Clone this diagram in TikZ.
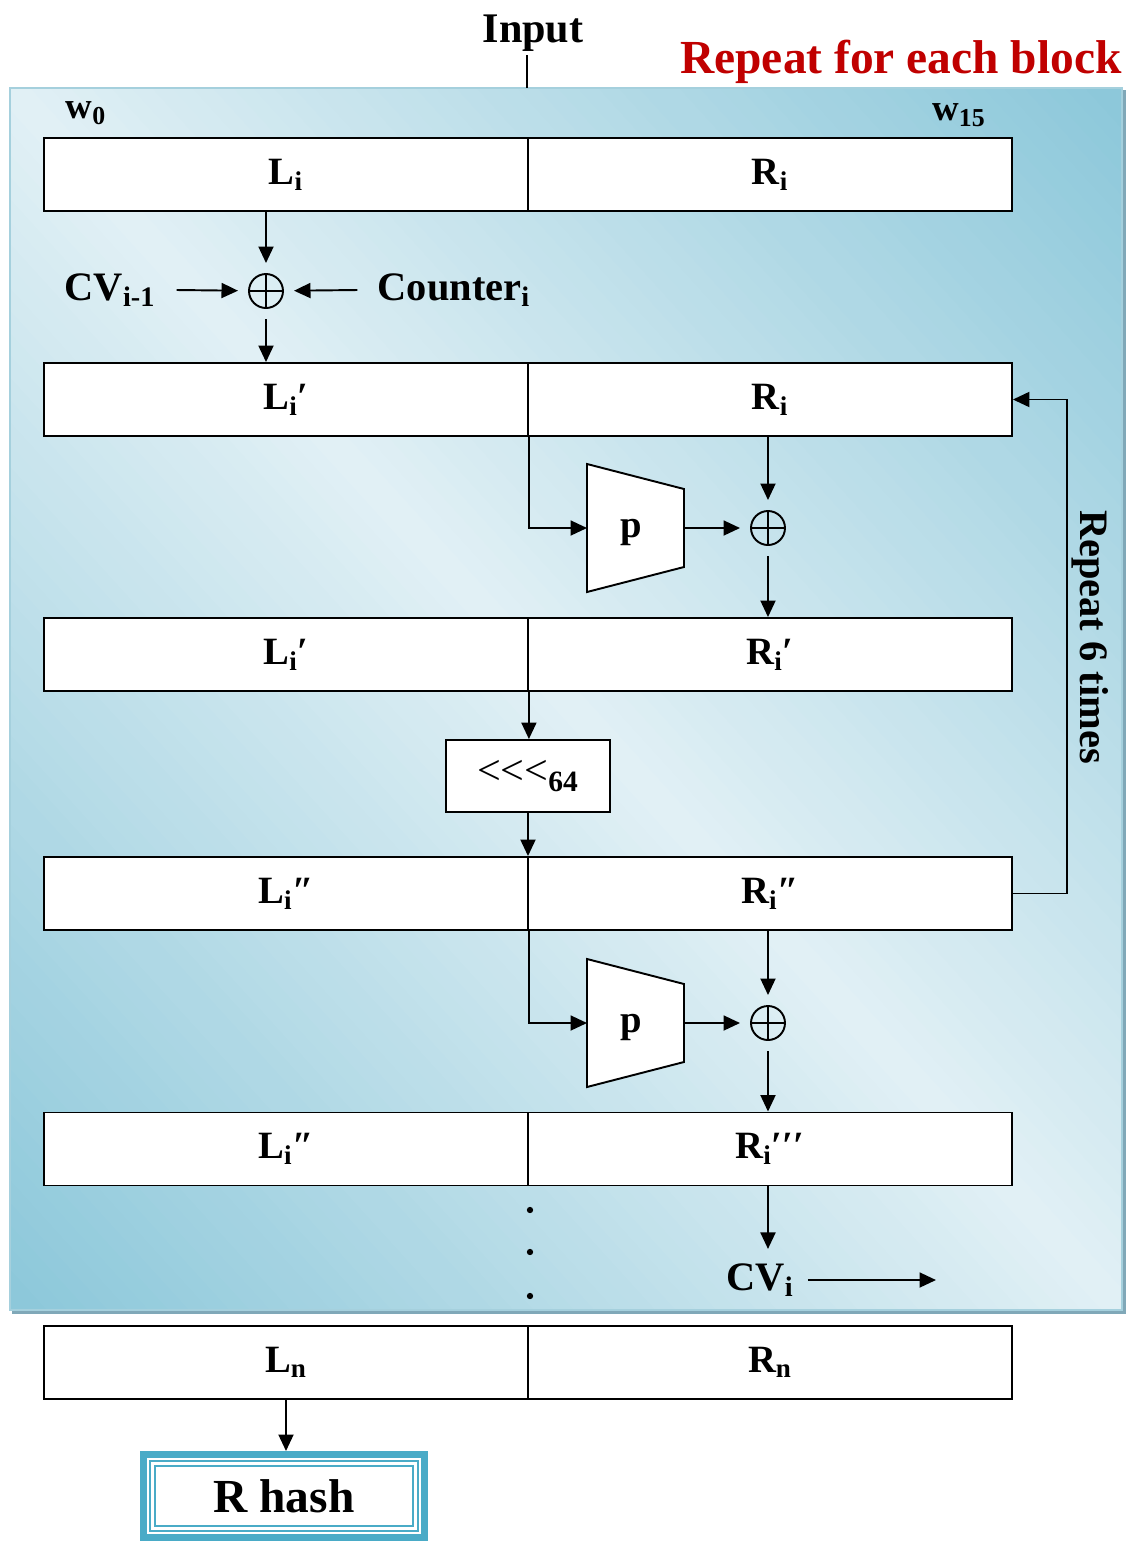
\documentclass[tikz,border=0pt]{standalone}
\usepackage{fontspec}
\setmainfont{Liberation Serif}
\usepackage{tikz}
\usetikzlibrary{arrows.meta}
\definecolor{blockred}{RGB}{192,0,0}
\definecolor{panedark}{RGB}{141,200,218}
\definecolor{panelite}{RGB}{225,240,245}
\definecolor{paneedge}{RGB}{165,208,221}
\definecolor{paneshadow}{RGB}{128,168,184}
\definecolor{hashblue}{RGB}{74,171,199}
\newcommand{\idx}[1]{\textsubscript{#1}}
\tikzset{
  arr/.style   = {-{Triangle[length=3.3mm,width=3mm]},line width=1.1pt},
  plain/.style = {line width=1.1pt},
  lbl/.style   = {font=\fontsize{22}{26}\selectfont\bfseries,inner sep=0pt},
  half/.style  = {draw,fill=white,line width=1.1pt,minimum width=9.68cm,
                  minimum height=1.46cm,inner sep=0pt,
                  font=\fontsize{22}{26}\selectfont\bfseries},
  xorop/.style = {circle,draw,line width=1.1pt,minimum size=0.68cm,
                  inner sep=0pt,outer sep=0.22cm,
                  path picture={\draw[line width=1.1pt]
                    (path picture bounding box.north) -- (path picture bounding box.south)
                    (path picture bounding box.west) -- (path picture bounding box.east);}}
}
% permutation block: name, x, y of centre
\newcommand{\permbox}[3]{%
  \draw[plain,fill=white] (#2-48,#3-64) -- (#2+49,#3-39) -- (#2+49,#3+39)
    -- (#2-48,#3+64) -- cycle;
  \node[lbl] (#1) at (#2-4,#3+4) {p};
  \coordinate (#1in) at (#2-48,#3);
  \coordinate (#1out) at (#2+49,#3);
}

\begin{document}
\begin{tikzpicture}[x=0.02cm,y=-0.02cm]
  \useasboundingbox (0,0) rectangle (1128,1543);
  % panel, light along the diagonal, darker towards two corners
  \begin{scope}
    \clip (10,88) rectangle (1122,1310);
    \foreach \k in {-56,...,55}{
      \pgfmathsetmacro{\sfrom}{\k*15}
      \pgfmathsetmacro{\sto}{\k*15+16}
      \pgfmathtruncatemacro{\mixf}{min(100,abs(\k*15+7.5)/800*100)}
      \fill[panedark!\mixf!panelite]
        ({566+\sfrom*0.740-1000*0.673},{699-\sfrom*0.673-1000*0.740})
        -- ({566+\sfrom*0.740+1000*0.673},{699-\sfrom*0.673+1000*0.740})
        -- ({566+\sto*0.740+1000*0.673},{699-\sto*0.673+1000*0.740})
        -- ({566+\sto*0.740-1000*0.673},{699-\sto*0.673-1000*0.740}) -- cycle;
    }
  \end{scope}
  \draw[paneshadow,line width=2.5pt] (12,1312) -- (1124,1312) -- (1124,90);
  \draw[paneedge,line width=1.2pt] (10,88) rectangle (1122,1310);

  \node[lbl,font=\fontsize{24}{28}\selectfont\bfseries,inner sep=2pt] (input) at (533,33) {Input};
  \node[lbl,font=\fontsize{27}{32}\selectfont\bfseries,text=blockred,anchor=east] (title) at (1122,62) {Repeat for each block};
  \coordinate (pin) at (527,88);
  \draw[plain] (input.south -| pin) -- (pin);

  \node[lbl,font=\fontsize{21}{24}\selectfont\bfseries] (w0) at (86,113) {w\idx{0}};
  \node[lbl,font=\fontsize{21}{24}\selectfont\bfseries] (w15) at (959,115) {w\idx{15}};

  % rows
  \node[half] (L1) at (286,174.5) {L\idx{i}};
  \node[half] (R1) at (770,174.5) {R\idx{i}};
  \node[half] (L2) at (286,399.5) {L\idx{i}′};
  \node[half] (R2) at (770,399.5) {R\idx{i}};
  \node[half] (L3) at (286,654.5) {L\idx{i}′};
  \node[half] (R3) at (770,654.5) {R\idx{i}′};
  \node[half] (L4) at (286,893.5) {L\idx{i}″};
  \node[half] (R4) at (770,893.5) {R\idx{i}″};
  \node[half] (L5) at (286,1149) {L\idx{i}″};
  \node[half] (R5) at (770,1149) {R\idx{i}′′′};
  \node[half] (L6) at (286,1362.5) {L\idx{n}};
  \node[half] (R6) at (770,1362.5) {R\idx{n}};

  % counter xor
  \node[xorop] (x1) at (266,291) {};
  \node[lbl,font=\fontsize{23}{27}\selectfont\bfseries] (cvin) at (110,290) {CV\idx{i-1}};
  \node[lbl,font=\fontsize{23}{27}\selectfont\bfseries] (ctr) at (454,290) {Counter\idx{i}};
  \draw[arr] (x1 |- L1.south) -- (x1);
  \draw[arr] ([xshift=0.42cm]cvin.east) -- (x1);
  \draw[arr] ([xshift=-0.4cm]ctr.west) -- (x1);
  \draw[arr] (x1) -- (x1 |- L2.north);

  % first p
  \permbox{pa}{635}{528}
  \node[xorop] (x2) at (768,528) {};
  \draw[arr] (L2.south east) |- (pain);
  \draw[arr] (paout) -- (x2);
  \draw[arr] (x2 |- R2.south) -- (x2);
  \draw[arr] (x2) -- (x2 |- R3.north);

  % rotation
  \node[draw,fill=white,line width=1.1pt,minimum width=3.28cm,minimum height=1.44cm,
        font=\fontsize{24}{28}\selectfont] (rot) at (528,776) {<{}<{}<\idx{\bfseries 64}};
  \draw[arr] (L3.south east) -- (L3.south east |- rot.north);
  \draw[arr] (rot.south) -- (rot.south |- L4.north);

  % loop back
  \draw[arr] (R4.east) -- ++(54,0) |- (R2.east);
  \node[lbl,font=\fontsize{23}{27}\selectfont\bfseries,rotate=-90] (rep) at (1090,637) {Repeat 6 times};

  % second p
  \permbox{pb}{635}{1023}
  \node[xorop] (x3) at (768,1023) {};
  \draw[arr] (L4.south east) |- (pbin);
  \draw[arr] (pbout) -- (x3);
  \draw[arr] (x3 |- R4.south) -- (x3);
  \draw[arr] (x3) -- (x3 |- R5.north);

  % chaining value out
  \foreach \y in {1210,1252,1296}
    \fill (530,\y) circle (1.8pt);
  \node[lbl,font=\fontsize{23}{27}\selectfont\bfseries,inner sep=8pt] (cvout) at (760,1280) {CV\idx{i}};
  \coordinate (cvend) at (936,1280);
  \draw[arr] (x3 |- R5.south) -- (x3 |- cvout.north);
  \draw[arr] (cvout.east) -- (cvend);

  % result
  \node[draw=hashblue,line width=0.14cm,fill=white,minimum width=5.62cm,minimum height=1.66cm,
        font=\fontsize{27}{32}\selectfont\bfseries] (hash) at (284,1496) {R hash};
  \draw[hashblue,line width=0.7pt] ([shift={(0.2cm,0.2cm)}]hash.south west)
    rectangle ([shift={(-0.2cm,-0.2cm)}]hash.north east);
  \draw[hashblue,line width=0.7pt] ([shift={(0.3cm,0.3cm)}]hash.south west)
    rectangle ([shift={(-0.3cm,-0.3cm)}]hash.north east);
  \draw[arr] (L6.south) -- (L6.south |- hash.north);
\end{tikzpicture}
\end{document}
